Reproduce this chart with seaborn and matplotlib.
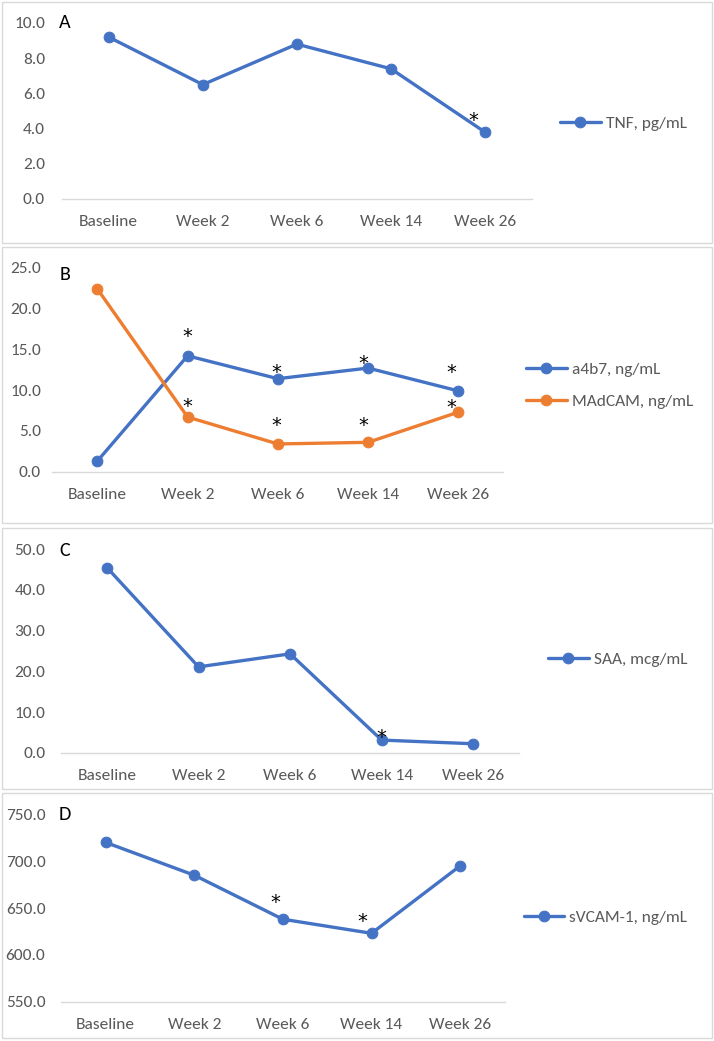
import matplotlib
matplotlib.use("Agg")
import matplotlib.pyplot as plt
import seaborn as sns
import pandas as pd
from matplotlib.patches import Rectangle
from matplotlib import font_manager

# ---------------- data ----------------
weeks = ["Baseline", "Week 2", "Week 6", "Week 14", "Week 26"]
tnf = [9.2, 6.5, 8.8, 7.4, 3.8]
a4b7 = [1.3, 14.2, 11.4, 12.7, 9.9]
madcam = [22.4, 6.7, 3.4, 3.6, 7.3]
saa = [45.5, 21.1, 24.3, 3.1, 2.2]
svcam1 = [720.0, 685.0, 638.0, 623.0, 695.0]

tnf_sig = [4]
a4b7_sig = [1, 2, 3, 4]
madcam_sig = [1, 2, 3, 4]
saa_sig = [3]
svcam1_sig = [2, 3]

# ---------------- style ----------------
sns.set_theme(style="white")
fl = font_manager.fontManager.ttflist
names = {f.name for f in fl}
main_font = "Lato"
for cand in ["Carlito", "Liberation Sans Narrow", "Roboto Condensed", "Open Sans Condensed"]:
    if cand in names:
        main_font = cand
        break
plt.rcParams["font.family"] = [main_font, "DejaVu Sans"]

BLUE = "#4472C4"
ORANGE = "#ED7D31"
GRAY = "#595959"
AXC = "#D9D9D9"
FS = 12.5

W, H = 714, 1041
fig = plt.figure(figsize=(W / 100, H / 100), dpi=100)
fig.patch.set_facecolor("white")
PX = 72 / 100  # points per pixel

def px_rect(x0, y0, x1, y1):
    return [x0 / W, 1 - y1 / H, (x1 - x0) / W, (y1 - y0) / H]

def px_pt(x, y):
    return (x / W, 1 - y / H)

for (x0, y0, x1, y1) in [(2, 2, 712, 243), (2, 247, 712, 523), (2, 528, 712, 789), (2, 793, 712, 1038)]:
    fig.patches.append(Rectangle((x0 / W, 1 - y1 / H), (x1 - x0) / W, (y1 - y0) / H,
                                 transform=fig.transFigure, fill=False,
                                 edgecolor=AXC, linewidth=1.0))

panels = [
    dict(rect=(61.7, 23, 532, 199), ylim=(0, 10), step=2, ylab_right=45,
         series=[("TNF, pg/mL", tnf, BLUE, tnf_sig, [(-12, 18.5)])],
         letter="A", lpos=(65, 23), legpos=(560, 123)),
    dict(rect=(52.2, 267.7, 503.5, 471.7), ylim=(0, 25), step=5, ylab_right=41,
         series=[("a4b7, ng/mL", a4b7, BLUE, a4b7_sig, [(0, 26), (-1.5, 13), (-5, 12), (-7, 25)]),
                 ("MAdCAM, ng/mL", madcam, ORANGE, madcam_sig, [(0, 17), (-2, 25), (-5, 24), (-7, 12)])],
         letter="B", lpos=(65, 274), legpos=(526, 385.5)),
    dict(rect=(61.2, 549.3, 519, 752.7), ylim=(0, 50), step=10, ylab_right=45.5,
         series=[("SAA, mcg/mL", saa, BLUE, saa_sig, [(0, 10)])],
         letter="C", lpos=(65, 550), legpos=(548, 659)),
    dict(rect=(61.3, 814.3, 504.5, 1001.7), ylim=(550, 750), step=50, ylab_right=45.5,
         series=[("sVCAM-1, ng/mL", svcam1, BLUE, svcam1_sig, [(-7.5, 24), (-9, 19)])],
         letter="D", lpos=(65, 814), legpos=(523.7, 917)),
]

for p in panels:
    x0, y0, x1, y1 = p["rect"]
    ax = fig.add_axes(px_rect(x0, y0, x1, y1))
    ax.set_facecolor("none")
    for name, vals, col, sig, offs in p["series"]:
        df = pd.DataFrame({"week": weeks, "value": vals})
        sns.lineplot(data=df, x="week", y="value", ax=ax, color=col, linewidth=2.4,
                     marker="o", markersize=7.7, markeredgecolor=col, sort=False,
                     label=name)
        for i, (dx, dy) in zip(sig, offs):
            ax.annotate("*", xy=(i, vals[i]), xytext=(dx * PX, dy * PX - 5),
                        textcoords="offset points", ha="center", va="center",
                        fontsize=14, color="black", family="DejaVu Sans")
    lo, hi = p["ylim"]
    ax.set_ylim(lo, hi)
    ax.set_xlim(-0.5, len(weeks) - 0.5)
    ticks = list(range(int(lo), int(hi) + 1, p["step"]))
    ax.set_yticks(ticks)
    ax.set_yticklabels([f"{t:.1f}" for t in ticks])
    ax.set_xticks(range(len(weeks)))
    ax.set_xticklabels(weeks)
    ax.set_xlabel("")
    ax.set_ylabel("")
    for s in ["top", "right", "left"]:
        ax.spines[s].set_visible(False)
    ax.spines["bottom"].set_color(AXC)
    ax.spines["bottom"].set_linewidth(1.0)
    ax.tick_params(axis="both", length=0, labelsize=FS, colors=GRAY)
    ax.tick_params(axis="y", pad=(x0 - p["ylab_right"]) * PX)
    ax.tick_params(axis="x", pad=11.5)
    ax.grid(False)
    handles, labels = ax.get_legend_handles_labels()
    ax.legend(handles, labels, loc="center left", bbox_to_anchor=px_pt(*p["legpos"]),
              bbox_transform=fig.transFigure, frameon=False, fontsize=FS,
              labelcolor=GRAY, handlelength=2.35, handletextpad=0.28, labelspacing=1.0,
              borderaxespad=0, borderpad=0)
    fig.text(*px_pt(*p["lpos"]), p["letter"], ha="center", va="center",
             fontsize=14.5, color="black")

fig.savefig("out.png", dpi=100, facecolor="white")
